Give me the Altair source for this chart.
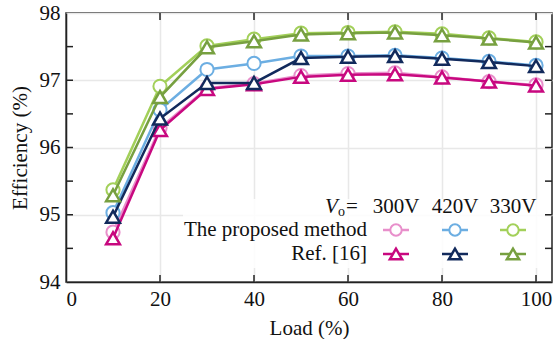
import altair as alt
import pandas as pd

# ---------------- data ----------------
load = [10, 20, 30, 40, 50, 60, 70, 80, 90, 100]
prop_300 = [94.74, 96.29, 96.88, 96.95, 97.07, 97.10, 97.11, 97.05, 96.98, 96.93]
ref_300 = [94.65, 96.26, 96.87, 96.94, 97.05, 97.08, 97.09, 97.04, 96.98, 96.92]
prop_420 = [95.03, 96.56, 97.16, 97.25, 97.36, 97.36, 97.37, 97.33, 97.28, 97.22]
ref_420 = [94.97, 96.43, 96.96, 96.96, 97.33, 97.35, 97.36, 97.32, 97.27, 97.21]
prop_330 = [95.37, 96.91, 97.51, 97.61, 97.70, 97.71, 97.72, 97.69, 97.63, 97.57]
ref_330 = [95.29, 96.75, 97.49, 97.58, 97.68, 97.70, 97.71, 97.67, 97.62, 97.56]

voltages = ["300V", "420V", "330V"]
methods = ["The proposed method", "Ref. [16]"]
x_ticks = [0, 20, 40, 60, 80, 100]
y_ticks = [94, 94.5, 95, 95.5, 96, 96.5, 97, 97.5, 98]

series = [
    ("prop300", methods[0], voltages[0], prop_300, "#E88FCB", "circle"),
    ("ref300", methods[1], voltages[0], ref_300, "#C8087F", "triangle-up"),
    ("prop420", methods[0], voltages[1], prop_420, "#6CAEE2", "circle"),
    ("ref420", methods[1], voltages[1], ref_420, "#122A5C", "triangle-up"),
    ("prop330", methods[0], voltages[2], prop_330, "#A3D05A", "circle"),
    ("ref330", methods[1], voltages[2], ref_330, "#77A040", "triangle-up"),
]

W, H = 486, 269
FONT = "Liberation Serif"
FS = 21
TXT = "#111111"
TL = 7  # inward tick length

xscale = alt.Scale(domain=[0, 103.4], nice=False, zero=False)
yscale = alt.Scale(domain=[94, 98], nice=False, zero=False)

# base axes / grid
base_df = pd.DataFrame({"x": [0], "y": [94]})
axes = alt.Chart(base_df).mark_point(opacity=0).encode(
    x=alt.X("x:Q", scale=xscale, title="Load (%)",
            axis=alt.Axis(values=x_ticks, grid=True, ticks=False, labelPadding=6,
                          titlePadding=8, format="d")),
    y=alt.Y("y:Q", scale=yscale, title="Efficiency (%)",
            axis=alt.Axis(values=y_ticks, grid=True, ticks=False, labelPadding=6,
                          format=".0f", titleX=-46, titleY=H / 2,
                          titleBaseline="middle", titleAlign="center",
                          labelExpr="datum.value % 1 == 0 ? datum.label : ''")),
)

# inward ticks
ydf = pd.DataFrame({"y": y_ticks[1:-1]})
xdf = pd.DataFrame({"x": x_ticks[1:]})
tick_style = dict(color="#222222", strokeWidth=1.5)
left_ticks = alt.Chart(ydf).mark_rule(**tick_style).encode(
    y=alt.Y("y:Q", scale=yscale), x=alt.value(0), x2=alt.value(TL))
right_ticks = alt.Chart(ydf).mark_rule(**tick_style).encode(
    y=alt.Y("y:Q", scale=yscale), x=alt.value(W - TL), x2=alt.value(W))
bottom_ticks = alt.Chart(xdf).mark_rule(**tick_style).encode(
    x=alt.X("x:Q", scale=xscale), y=alt.value(H - TL), y2=alt.value(H))
top_ticks = alt.Chart(xdf).mark_rule(**tick_style).encode(
    x=alt.X("x:Q", scale=xscale), y=alt.value(0), y2=alt.value(TL))

px = lambda f: alt.X(f"{f}:Q", scale=None, axis=None)
py = lambda f: alt.Y(f"{f}:Q", scale=None, axis=None)

# legend background box (semi-opaque white, as in the reference)
box_df = pd.DataFrame({"x1": [117], "x2": [479], "y1": [186], "y2": [255]})
leg_box = alt.Chart(box_df).mark_rect(color="white", opacity=0.85).encode(
    x=px("x1"), x2="x2:Q", y=py("y1"), y2="y2:Q")

layers = [axes, leg_box, left_ticks, right_ticks, bottom_ticks, top_ticks]

for key, meth, volt, vals, col, shape in series:
    df = pd.DataFrame({"load": load, "eff": vals})
    enc = dict(x=alt.X("load:Q", scale=xscale), y=alt.Y("eff:Q", scale=yscale))
    layers.append(alt.Chart(df).mark_line(color=col, strokeWidth=2.5).encode(**enc))
    if shape == "circle":
        layers.append(alt.Chart(df).mark_point(shape="circle", size=175, fill="white",
                                               filled=True, stroke=col, strokeWidth=2,
                                               opacity=1).encode(**enc))
    else:
        layers.append(alt.Chart(df).mark_point(shape="triangle-up", size=190, fill="white",
                                               filled=True, stroke=col, strokeWidth=2.5,
                                               opacity=1).encode(**enc))

# ---------------- custom legend (pixel layout) ----------------
col_x = [330, 389, 447]
row_y = [217, 241]
head_y = 194
lab_x = 301

leg_rows = []
for key, meth, volt, vals, col, shape in series:
    leg_rows.append({"px": col_x[voltages.index(volt)],
                     "py": row_y[methods.index(meth)],
                     "color": col, "shape": shape})
leg_df = pd.DataFrame(leg_rows)
leg_df["x1"] = leg_df["px"] - 13
leg_df["x2"] = leg_df["px"] + 13

leg_lines = alt.Chart(leg_df).mark_rule(strokeWidth=2.5).encode(
    x=px("x1"), x2="x2:Q", y=py("py"),
    color=alt.Color("color:N", scale=None))
leg_circ = alt.Chart(leg_df[leg_df["shape"] == "circle"]).mark_point(
    shape="circle", size=130, filled=True, fill="white", strokeWidth=2, opacity=1).encode(
    x=px("px"), y=py("py"), stroke=alt.Stroke("color:N", scale=None))
leg_tri = alt.Chart(leg_df[leg_df["shape"] == "triangle-up"]).mark_point(
    shape="triangle-up", size=150, filled=True, fill="white", strokeWidth=2.5, opacity=1).encode(
    x=px("px"), y=py("py"), stroke=alt.Stroke("color:N", scale=None))

head_df = pd.DataFrame({"t": voltages, "px": col_x, "py": [head_y] * 3})
head_txt = alt.Chart(head_df).mark_text(font=FONT, fontSize=FS, color=TXT,
                                        baseline="middle", align="center").encode(
    x=px("px"), y=py("py"), text="t:N")

row_df = pd.DataFrame({"t": methods, "px": [lab_x] * 2, "py": row_y})
row_txt = alt.Chart(row_df).mark_text(font=FONT, fontSize=FS, color=TXT,
                                      baseline="middle", align="right").encode(
    x=px("px"), y=py("py"), text="t:N")

vo_df = pd.DataFrame({"t": ["V", "o", "="], "px": [259, 272, 280],
                      "py": [head_y, head_y + 5, head_y]})
vo_v = alt.Chart(vo_df.iloc[[0]]).mark_text(font=FONT, fontSize=FS, fontStyle="italic",
                                           color=TXT, baseline="middle", align="left").encode(
    x=px("px"), y=py("py"), text="t:N")
vo_o = alt.Chart(vo_df.iloc[[1]]).mark_text(font=FONT, fontSize=14, color=TXT,
                                           baseline="middle", align="left").encode(
    x=px("px"), y=py("py"), text="t:N")
vo_eq = alt.Chart(vo_df.iloc[[2]]).mark_text(font=FONT, fontSize=FS, color=TXT,
                                            baseline="middle", align="left").encode(
    x=px("px"), y=py("py"), text="t:N")

layers += [leg_lines, leg_circ, leg_tri, head_txt, row_txt, vo_v, vo_o, vo_eq]

chart = alt.layer(*layers).properties(
    width=W, height=H,
    autosize=alt.AutoSizeParams(type="none"),
    padding={"left": 66, "top": 13, "right": 6, "bottom": 57},
    background="white",
).configure_view(
    stroke="#222222", strokeWidth=1.5
).configure_axis(
    labelFont=FONT, titleFont=FONT, labelFontSize=FS, titleFontSize=FS,
    labelColor=TXT, titleColor=TXT, titleFontWeight="normal",
    domainColor="#222222", domainWidth=1.5,
    gridColor="#e8e8e8", gridWidth=1.5,
)

chart.save("out.html", embed_options={"renderer": "svg", "actions": False})
